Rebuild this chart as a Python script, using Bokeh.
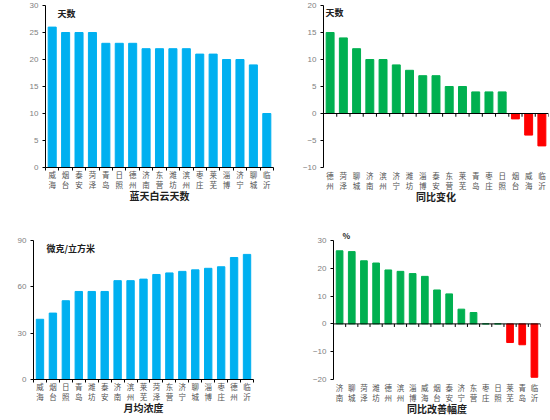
from bokeh.plotting import figure
from bokeh.layouts import column, row
from bokeh.models import Range1d, FixedTicker, Label, Span, ColumnDataSource, CustomJSTickFormatter
from bokeh.embed import file_html
from bokeh.resources import INLINE

# ---- data ----
cities1 = ["威海", "烟台", "泰安", "菏泽", "青岛", "日照", "德州", "济南", "东营",
           "潍坊", "滨州", "枣庄", "莱芜", "淄博", "济宁", "聊城", "临沂"]
days1 = [26, 25, 25, 25, 23, 23, 23, 22, 22, 22, 22, 21, 21, 20, 20, 19, 10]

cities2 = ["德州", "菏泽", "聊城", "济南", "滨州", "济宁", "潍坊", "淄博", "泰安",
           "东营", "莱芜", "青岛", "枣庄", "日照", "烟台", "威海", "临沂"]
change2 = [15, 14, 12, 10, 10, 9, 8, 7, 7, 5, 5, 4, 4, 4, -1, -4, -6]

cities3 = ["威海", "烟台", "日照", "青岛", "潍坊", "泰安", "济南", "滨州", "莱芜",
           "菏泽", "东营", "济宁", "聊城", "淄博", "枣庄", "德州", "临沂"]
conc3 = [39, 43, 51, 57, 57, 57, 64, 64, 65, 68, 69, 70, 71, 72, 73, 79, 81]

cities4 = ["济南", "聊城", "菏泽", "潍坊", "德州", "滨州", "淄博", "威海", "烟台",
           "泰安", "济宁", "东营", "枣庄", "日照", "莱芜", "青岛", "临沂"]
improve4 = [26.3, 26.0, 22.7, 21.9, 19.4, 18.9, 18.1, 17.1, 12.2, 10.8, 5.3, 4.1,
            0, 0, -6.7, -7.5, -19.2]

BLUE = "#00B0F0"
GREEN = "#00B050"
RED = "#FF0000"
CJK = "Noto Sans CJK SC"


def panel(cats, vals, ylo, yhi, ystep, xlabel, bar_w, borders, zero_axis,
          colors, tick_len, with_title=False):
    n = len(cats)
    left, right, top, bottom = borders
    p = figure(width=275, height=210, output_backend="svg", toolbar_location=None,
               x_range=Range1d(0, n), y_range=Range1d(ylo, yhi),
               title_location="above" if with_title else None,
               min_border_left=left, min_border_right=right,
               min_border_top=top, min_border_bottom=bottom)
    p.outline_line_color = None
    p.xgrid.visible = False
    p.ygrid.visible = False

    centers = [i + 0.5 for i in range(n)]
    src = ColumnDataSource(dict(x=centers, top=vals, color=colors))
    p.vbar(x="x", top="top", bottom=0, width=bar_w, color="color", source=src)

    # y axis
    ya = p.yaxis[0]
    ya.ticker = FixedTicker(ticks=list(range(ylo, yhi + 1, ystep)), minor_ticks=[])
    ya.axis_line_color = "black"
    ya.major_tick_line_color = "black"
    ya.major_tick_out = 3
    ya.major_tick_in = 0
    ya.minor_tick_line_color = None
    ya.major_label_text_color = "#808080"
    ya.major_label_text_font = "Liberation Sans"
    ya.major_label_text_font_size = "8px"
    ya.major_label_standoff = 4

    # x axis (labels at bottom)
    xa = p.xaxis[0]
    xa.ticker = FixedTicker(ticks=centers, minor_ticks=list(range(n + 1)))
    xa.formatter = CustomJSTickFormatter(args=dict(labels=cats), code="""
        const s = labels[Math.floor(tick)];
        return s[0] + "\\n" + s[1];
    """)
    xa.major_tick_line_color = None
    xa.major_tick_out = 0
    xa.major_tick_in = 0
    xa.major_label_standoff = -2
    xa.major_label_text_font = CJK
    xa.major_label_text_font_size = "7.5px"
    xa.major_label_text_line_height = 0.95
    xa.major_label_text_color = "#505050"
    xa.axis_label = xlabel
    xa.axis_label_text_font = CJK
    xa.axis_label_text_font_style = "bold"
    xa.axis_label_text_font_size = "10px"
    xa.axis_label_text_line_height = 0.9
    xa.axis_label_text_color = "#202020"
    xa.axis_label_standoff = -5
    if zero_axis:
        xa.axis_line_color = None
        xa.minor_tick_line_color = None
        p.add_layout(Span(location=0, dimension="width", line_color="black", line_width=1))
        bounds = list(range(n + 1))
        p.segment(x0=bounds, x1=bounds, y0=[0] * len(bounds),
                  y1=[-tick_len] * len(bounds), line_color="black", line_width=1)
    else:
        xa.axis_line_color = "black"
        xa.minor_tick_line_color = "black"
        xa.minor_tick_out = 3
        xa.minor_tick_in = 0
    return p


def unit_label(p, text, x, y, y_offset=0):
    p.add_layout(Label(x=x, y=y, y_offset=y_offset, text=text, text_font=CJK,
                       text_font_size="9px", text_font_style="bold",
                       text_color="#202020", text_baseline="top", text_align="left"))


p1 = panel(cities1, days1, 0, 30, 5, "蓝天白云天数", 0.6,
           (45, 2, 5, 39), False, [BLUE] * len(days1), 0)
unit_label(p1, "天数", 0.9, 30, -1)

p2 = panel(cities2, change2, -10, 20, 5, "同比变化", 0.6,
           (48, 2, 5, 43), True, [GREEN if v >= 0 else RED for v in change2], 0.6)
unit_label(p2, "天数", 0.15, 20, 0)

p3 = panel(cities3, conc3, 0, 90, 30, "月均浓度", 0.57,
           (33, 22, 17, 41), False, [BLUE] * len(conc3), 0)
unit_label(p3, "微克/立方米", 1.0, 90, -1)

p4 = panel(cities4, improve4, -20, 30, 10, "同比改善幅度", 0.55,
           (58, 10, 30, 38), True, [GREEN if v >= 0 else RED for v in improve4], 1.1,
           with_title=True)
p4.title.text = "%"
p4.title.align = "left"
p4.title.offset = 9
p4.title.standoff = 0
p4.title.text_font = CJK
p4.title.text_font_size = "8px"
p4.title.text_font_style = "bold"
p4.title.text_color = "#202020"

layout = column(row(p1, p2, spacing=0), row(p3, p4, spacing=0), spacing=0)

open("out.html", "w").write(file_html(layout, INLINE))
